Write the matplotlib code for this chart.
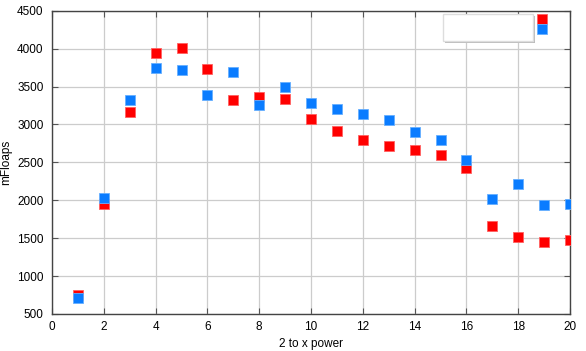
import numpy as np
import matplotlib
matplotlib.use("Agg")
import matplotlib.pyplot as plt
from matplotlib.patches import Rectangle

plt.rcParams["font.family"] = ["Liberation Sans", "DejaVu Sans"]

# ---- data ----
power = np.arange(1, 21)
red_mflops = [745, 1953, 3158, 3939, 4005, 3737, 3316, 3365, 3338, 3075,
              2908, 2795, 2711, 2667, 2597, 2426, 1658, 1518, 1443, 1470]
blue_mflops = [716, 2032, 3325, 3746, 3724, 3387, 3689, 3255, 3492, 3282,
               3207, 3137, 3062, 2900, 2790, 2532, 2018, 2220, 1939, 1957]
x_ticks = list(range(0, 21, 2))
y_ticks = list(range(500, 4501, 500))

RED = "#FF0000"
BLUE = "#0A7CFF"

fig = plt.figure(figsize=(5.86, 3.51), dpi=100)
ax = fig.add_axes([52 / 586, 1 - 314 / 351, (570 - 52) / 586, (314 - 10.7) / 351])

ms = 7.6
h_red, = ax.plot(power, red_mflops, "s", ms=ms, color=RED, mec="#FF6060",
                 mew=0.6, zorder=3)
h_blue, = ax.plot(power, blue_mflops, "s", ms=ms, color=BLUE, mec="#66AFFF",
                  mew=0.6, zorder=3)

ax.set_xlim(0, 20)
ax.set_ylim(500, 4500)
ax.set_xticks(x_ticks)
ax.set_yticks(y_ticks)
ax.grid(color="#CCCCCC", lw=0.9)
ax.set_axisbelow(True)
ax.tick_params(direction="in", length=4, width=0.8, color="#555555",
               top=True, right=True, labelsize=8.5)
ax.tick_params(axis="x", pad=5)
ax.tick_params(axis="y", pad=6)
for s in ax.spines.values():
    s.set_color("#444444")
    s.set_linewidth(1.0)

ax.set_xlabel("2 to x power", fontsize=8.5, labelpad=4)
ax.set_ylabel("mFloaps", fontsize=8.5)
ax.yaxis.set_label_coords(-0.077, 0.5)

# empty key box (gnuplot style) + key symbols
box = Rectangle((443 / 586, 1 - 41 / 351), (533 - 443) / 586, (41 - 14) / 351,
                transform=fig.transFigure, facecolor="white",
                edgecolor="#DDDDDD", lw=1.0, zorder=4)
shadow = Rectangle((444.5 / 586, 1 - 42.5 / 351), (533 - 443) / 586, (41 - 14) / 351,
                   transform=fig.transFigure, facecolor="#BBBBBB",
                   edgecolor="none", zorder=3.9)
fig.patches.extend([shadow, box])
leg = fig.legend([h_red, h_blue], ["", ""], loc="upper left",
                 bbox_to_anchor=(539 / 586, 1 - 14 / 351), frameon=False,
                 handlelength=0.7, handletextpad=0.0, borderpad=0.0,
                 borderaxespad=0.0, labelspacing=0.05, fontsize=7)

fig.savefig("out.png", dpi=100)
